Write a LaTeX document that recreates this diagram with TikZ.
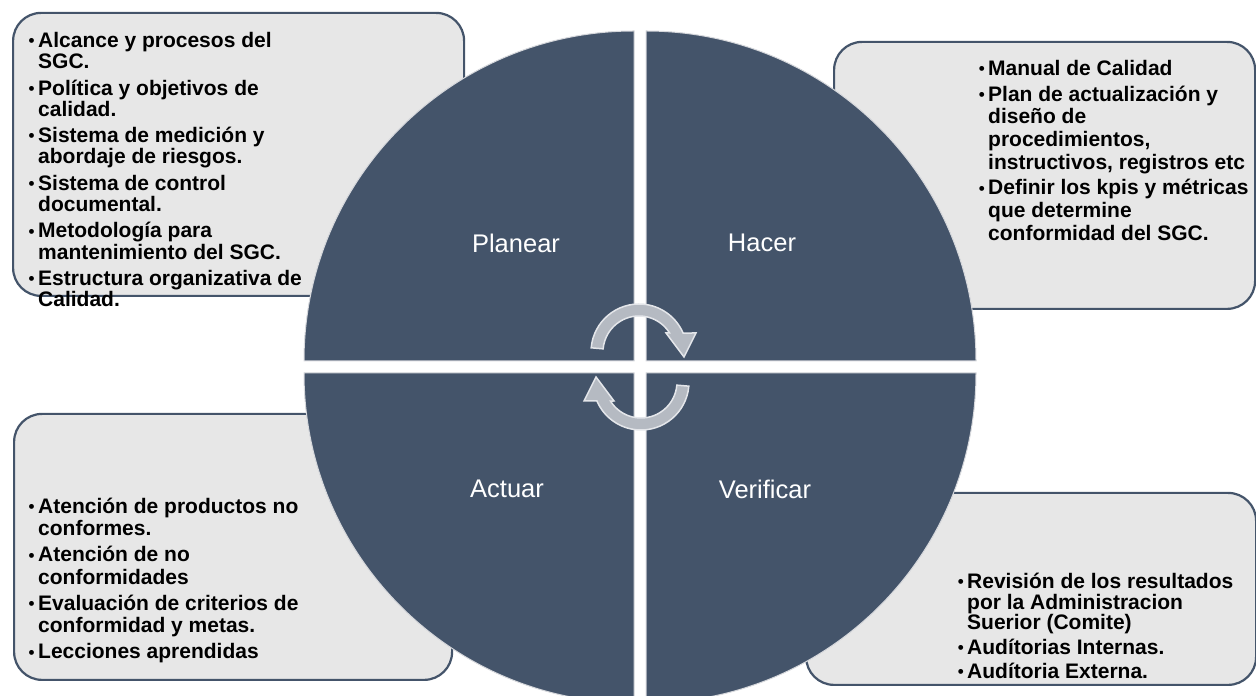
\documentclass[tikz,border=0pt]{standalone}
\usepackage{fontspec}
\setmainfont{Liberation Sans}
\definecolor{slate}{HTML}{44546A}
\definecolor{boxfill}{HTML}{E7E7E7}
\definecolor{arrowfill}{HTML}{B5BAC2}
\definecolor{arrowrim}{HTML}{E4E6EA}
\definecolor{rim}{HTML}{D6D8DC}
% hanging bullet placed left of the item text
\newcommand\bul{\llap{\raisebox{0.8pt}{\fontsize{17}{17}\selectfont •}\hspace{3.5pt}}}
\begin{document}
\begin{tikzpicture}[x=1pt,y=1pt,
  infobox/.style={fill=boxfill, draw=slate, line width=2.2pt, rounded corners=28pt, inner sep=0pt, anchor=south west},
  quad/.style={fill=slate, draw=rim, line width=1pt},
  quadlabel/.style={text=white, font=\fontsize{25.5}{30}\selectfont, inner sep=0pt},
  listtext/.style={anchor=north west, inner sep=0pt, align=left},
  cyc/.style={fill=arrowfill, draw=arrowrim, line width=1.5pt},
  cycarrow/.pic={
    \draw[cyc] (175:48) arc[start angle=175, end angle=23.3, radius=48]
      -- (57,19) -- (45,-5) -- (27,19) -- (31.9:36)
      arc[start angle=31.9, end angle=175, radius=36] -- cycle;
  }]
\useasboundingbox (0,0) rectangle (1256,696);
\clip (0,0) rectangle (1256,696);

% outer text boxes
\node[infobox, minimum width=451, minimum height=283] (tlbox) at (12,399) {};
\node[infobox, minimum width=421, minimum height=267] (trbox) at (833,386) {};
\node[infobox, minimum width=438, minimum height=266] (blbox) at (13,15) {};
\node[infobox, minimum width=450, minimum height=192] (brbox) at (805,10) {};

% box texts
\node[listtext, font=\bfseries\fontsize{21}{21.3}\selectfont] (tltext) at (38,664) {%
\bul Alcance y procesos del\\ SGC.\\[5pt]
\bul Política y objetivos de\\ calidad.\\[5pt]
\bul Sistema de medición y\\ abordaje de riesgos.\\[5pt]
\bul Sistema de control\\ documental.\\[5pt]
\bul Metodología para\\ mantenimiento del SGC.\\[5pt]
\bul Estructura organizativa de\\ Calidad.};

\node[listtext, font=\bfseries\fontsize{21}{22.7}\selectfont] (trtext) at (988,636) {%
\bul Manual de Calidad\\[3pt]
\bul Plan de actualización y\\ diseño de\\ procedimientos,\\ instructivos, registros etc\\[3pt]
\bul Definir los kpis y métricas\\ que determine\\ conformidad del SGC.};

\node[listtext, font=\bfseries\fontsize{21}{22.2}\selectfont] (bltext) at (38,198) {%
\bul Atención de productos no\\ conformes.\\[4pt]
\bul Atención de no\\ conformidades\\[4pt]
\bul Evaluación de criterios de\\ conformidad y metas.\\[4pt]
\bul Lecciones aprendidas};

\node[listtext, font=\bfseries\fontsize{21}{20.5}\selectfont] (brtext) at (967,123) {%
\bul Revisión de los resultados\\ por la Administracion\\ Suerior (Comite)\\[4pt]
\bul Audítorias Internas.\\[4pt]
\bul Audítoria Externa.};

% the four quarter discs
\draw[quad] (634,335) -- (304,335) arc[start angle=180, end angle=90, radius=330] -- cycle;
\draw[quad] (646,335) -- (646,665) arc[start angle=90, end angle=0, radius=330] -- cycle;
\draw[quad] (634,323) -- (634,-7) arc[start angle=270, end angle=180, radius=330] -- cycle;
\draw[quad] (646,323) -- (976,323) arc[start angle=0, end angle=-90, radius=330] -- cycle;

% quadrant labels
\node[quadlabel] (plan) at (516,453) {Planear};
\node[quadlabel] (do) at (762,453) {Hacer};
\node[quadlabel] (act) at (507,207) {Actuar};
\node[quadlabel] (check) at (765,207) {Verificar};

% cycle arrows in the middle
\pic (cyctop) at (639,344) {cycarrow};
\pic[rotate=180] (cycbot) at (641,314) {cycarrow};
\end{tikzpicture}
\end{document}
